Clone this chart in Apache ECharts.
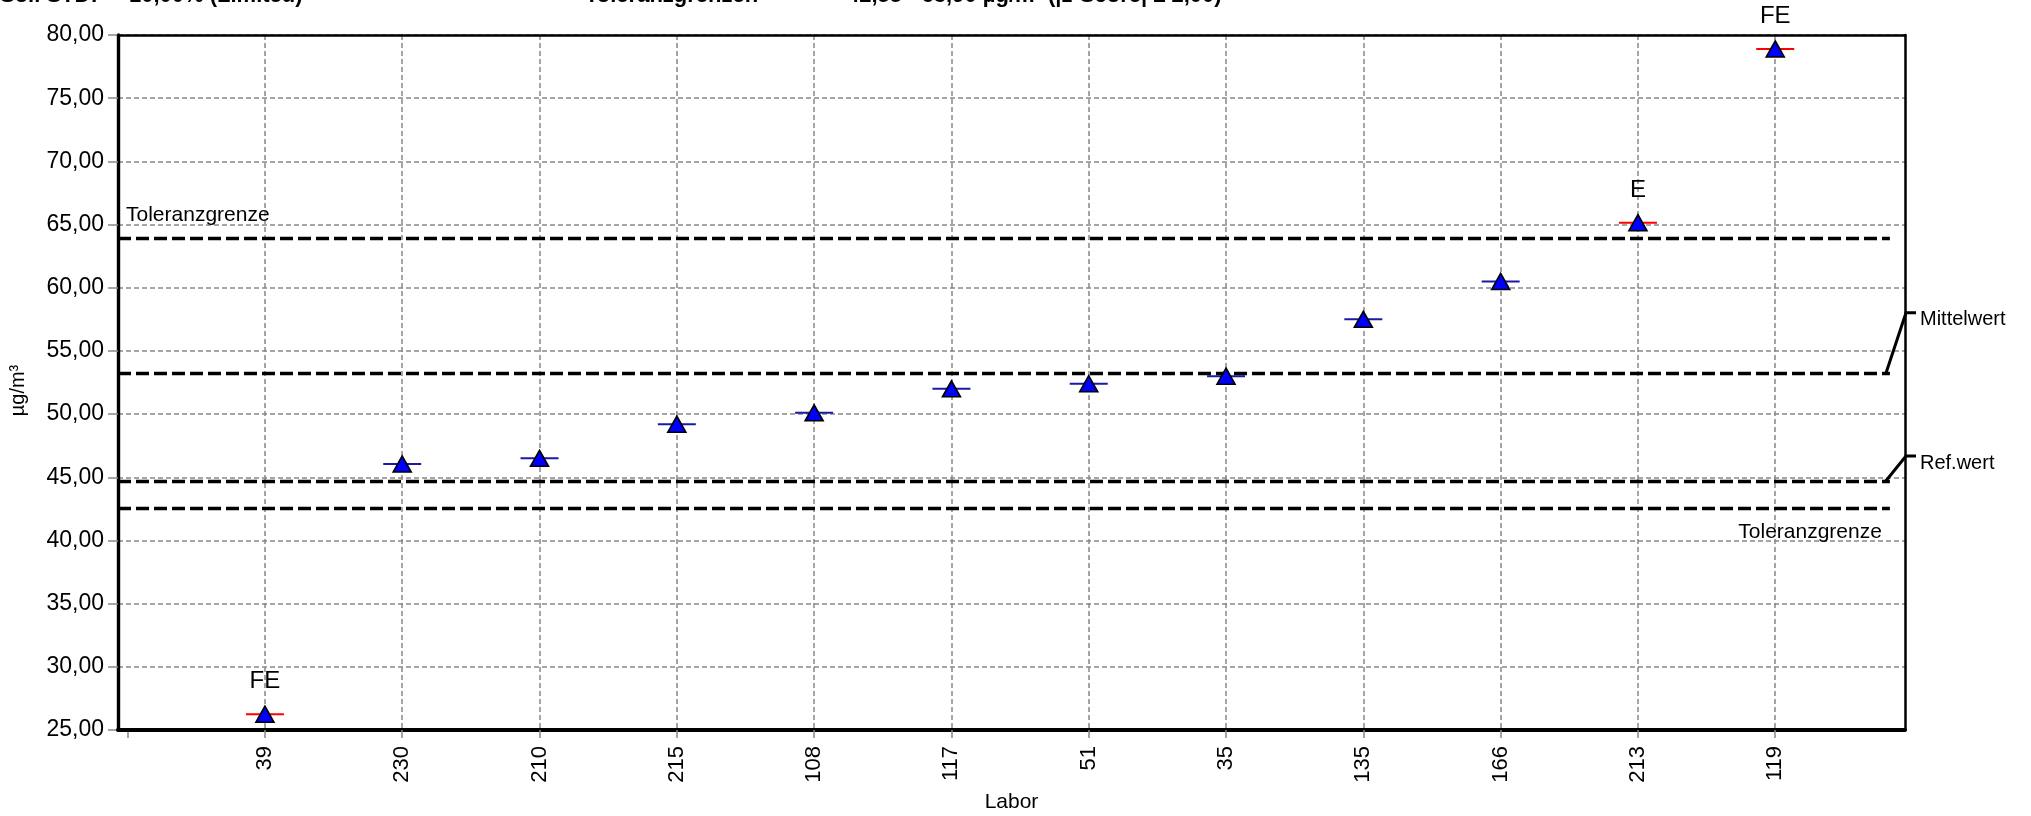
<!DOCTYPE html>
<html>
<head>
<meta charset="utf-8">
<script src="https://cdn.jsdelivr.net/npm/echarts@6/dist/echarts.min.js"></script>
<style>
  html, body { margin: 0; padding: 0; background: #ffffff; }
  #chart { width: 2031px; height: 816px; }
</style>
</head>
<body>
<div id="chart"></div>
<script>
// Laboratories in ranking order and their reported results (µg/m³)
const labs = ['39', '230', '210', '215', '108', '117', '51', '35', '135', '166', '213', '119'];
const results = [26.25, 46.05, 46.5, 49.2, 50.1, 52.0, 52.4, 53.0, 57.5, 60.5, 65.15, 78.9];
const flags = ['FE', '', '', '', '', '', '', '', '', '', 'E', 'FE'];

// Reference levels
const meanValue = 53.2;
const refValue = 44.7;
const tolLower = 42.55;
const tolUpper = 63.9;

// Value axis range
const yMin = 25;
const yMax = 80;
const yStep = 5;

// Header line
const headerParts = ['Soll STD:', '10,00% (Limited)', 'Toleranzgrenzen', '42,55 - 63,90 µg/m³ (|z-Score| ≤ 2,00)'];

const FONT = '"Liberation Sans", Arial, sans-serif';
const X_MIN = -0.07, X_MAX = 12.945, LINE_END = 12.835;
const positions = labs.map((_, i) => i + 1);
const points = labs.map((_, i) => [i + 1, results[i]]);
const fmt = v => v.toFixed(2).replace('.', ',');

const chart = echarts.init(document.getElementById('chart'), null, { renderer: 'canvas' });

const dashed = { color: '#000', width: 3.4, type: [13, 5] };
const gridLine = { color: '#888', width: 1.5, type: [5, 3] };

function refLine(value, name, labelPos) {
  return {
    type: 'line',
    data: [],
    silent: true,
    z: 3,
    markLine: {
      symbol: 'none',
      silent: true,
      animation: false,
      lineStyle: dashed,
      label: labelPos ? {
        show: true,
        position: labelPos,
        formatter: name,
        fontFamily: FONT,
        fontSize: 21,
        color: '#000',
        distance: [8, 13]
      } : { show: false },
      data: [[{ coord: [X_MIN, value] }, { coord: [LINE_END, value] }]]
    }
  };
}

const option = {
  animation: false,
  backgroundColor: '#ffffff',
  grid: {
    left: 118, right: 126, top: 35, bottom: 86,
    show: false,
    containLabel: false, outerBoundsMode: 'none'
  },
  xAxis: [{
    type: 'value',
    min: X_MIN, max: X_MAX,
    name: 'Labor',
    nameLocation: 'middle',
    nameGap: 62,
    nameTextStyle: { fontFamily: FONT, fontSize: 21, color: '#000' },
    axisLine: { show: true, onZero: false, lineStyle: { color: '#000', width: 4 } },
    axisTick: { show: true, customValues: positions, length: 8, lineStyle: { color: '#888', width: 1.5 } },
    axisLabel: {
      customValues: positions,
      rotate: 90, margin: 16,
      fontFamily: FONT, fontSize: 22, color: '#000',
      formatter: v => labs[Math.round(v) - 1] || ''
    },
    splitLine: { show: true, lineStyle: gridLine },
    z: 1
  }, {
    type: 'value',
    position: 'bottom',
    min: X_MIN, max: X_MAX,
    axisLine: { show: false, onZero: false },
    axisTick: { show: true, customValues: [0], length: 8, lineStyle: { color: '#888', width: 1.5 } },
    axisLabel: { show: false },
    splitLine: { show: false }
  }, {
    // plot frame, top edge
    type: 'value',
    position: 'top',
    min: X_MIN, max: X_MAX,
    axisLine: { show: true, onZero: false, lineStyle: { color: '#000', width: 2.5 } },
    axisTick: { show: false },
    axisLabel: { show: false },
    splitLine: { show: false },
    z: 6
  }],
  yAxis: [{
    type: 'value',
    min: yMin, max: yMax, interval: yStep,
    name: 'µg/m³',
    nameLocation: 'middle',
    nameGap: 90,
    nameRotate: 90,
    nameTextStyle: { fontFamily: FONT, fontSize: 20, color: '#000', padding: [0, 16, 0, 0] },
    axisLine: { show: true, onZero: false, lineStyle: { color: '#000', width: 3.4 } },
    axisTick: { show: true, length: 10, lineStyle: { color: '#888', width: 1.5 } },
    axisLabel: { fontFamily: FONT, fontSize: 23, color: '#000', margin: 14, formatter: fmt },
    splitLine: { show: true, lineStyle: gridLine },
    z: 0
  }, {
    // plot frame, right edge
    type: 'value',
    position: 'right',
    min: yMin, max: yMax, interval: yStep,
    axisLine: { show: true, onZero: false, lineStyle: { color: '#000', width: 2.5 } },
    axisTick: { show: false },
    axisLabel: { show: false },
    splitLine: { show: false },
    z: 6
  }],
  series: [
    refLine(tolUpper, 'Toleranzgrenze', 'insideStartTop'),
    refLine(meanValue, '', null),
    refLine(refValue, '', null),
    refLine(tolLower, 'Toleranzgrenze', 'insideEndBottom'),
    {
      // uncertainty bar behind each marker
      type: 'scatter',
      data: points,
      symbol: 'rect',
      symbolSize: [38, 2],
      silent: true,
      itemStyle: { opacity: 1, color: p => flags[p.dataIndex] ? '#ff0000' : '#1a1aa8' },
      z: 4
    },
    {
      type: 'scatter',
      data: points,
      symbol: 'triangle',
      symbolSize: [18, 16],
      itemStyle: { opacity: 1, color: '#0000ff', borderColor: '#000', borderWidth: 1.6 },
      label: {
        show: true,
        position: 'top',
        distance: 12,
        fontFamily: FONT,
        fontSize: 24,
        color: '#000',
        opacity: 1,
        formatter: p => flags[p.dataIndex]
      },
      z: 5
    }
  ]
};

chart.setOption(option);

// Header text (partly above the canvas) and callouts for mean / reference value
function drawExtras() {
  const headerX = [0, 129, 585, 847];
  const graphics = headerParts.map((t, i) => ({
    type: 'text',
    x: headerX[i], y: 7,
    style: { text: t, font: 'bold 22px ' + FONT, fill: '#000', verticalAlign: 'bottom', align: 'left' }
  }));

  const callouts = [
    { value: meanValue, text: 'Mittelwert', rise: 61 },
    { value: refValue, text: 'Ref.wert', rise: 25 }
  ];
  callouts.forEach(c => {
    const start = chart.convertToPixel({ gridIndex: 0 }, [LINE_END - 0.03, c.value]);
    const edge = chart.convertToPixel({ gridIndex: 0 }, [X_MAX, c.value]);
    const yTop = start[1] - c.rise;
    graphics.push({
      type: 'polyline',
      shape: { points: [[start[0], start[1]], [edge[0] + 1, yTop], [edge[0] + 11, yTop]] },
      style: { stroke: '#000', lineWidth: 3, fill: null }
    });
    graphics.push({
      type: 'text',
      x: edge[0] + 15, y: yTop + 7,
      style: { text: c.text, font: '20px ' + FONT, fill: '#000', verticalAlign: 'middle', align: 'left' }
    });
  });
  chart.setOption({ graphic: graphics });
}
drawExtras();
</script>
</body>
</html>
